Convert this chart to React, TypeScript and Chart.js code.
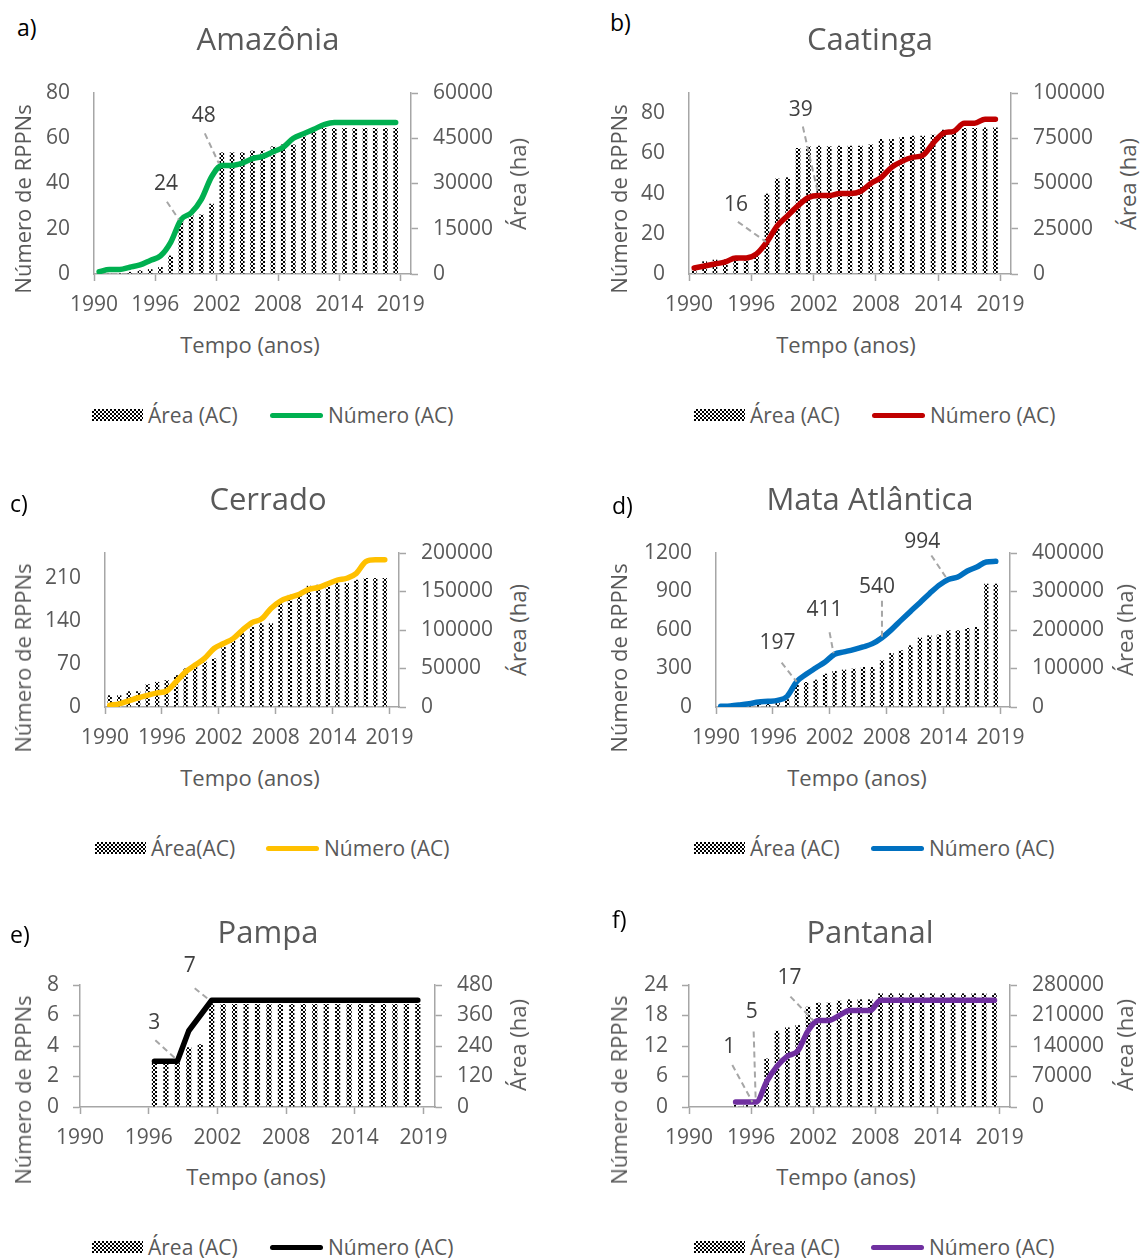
import React, { useEffect, useRef } from 'react';
import { Chart, registerables } from 'chart.js';

Chart.register(...registerables);

// ---------- DATA ----------
const years = ['1990','1991','1992','1993','1994','1995','1996','1997','1998','1999','2000','2001','2002','2003','2004','2005','2006','2007','2008','2009','2010','2011','2012','2013','2014','2015','2016','2017','2018','2019'];
const xTickLabels = ['1990', '1996', '2002', '2008', '2014', '2019'];

const amazoniaNumero = [1,2,2,3,4,6,8,14,24,27,33,43,48,48,49,51,52,54,56,60,62,64,66,67,67,67,67,67,67,67];
const amazoniaArea = [100,200,300,700,1200,1600,2300,6100,18000,19700,19700,23300,40300,40300,40300,40900,40900,42300,42900,42900,45600,47300,48400,48400,48400,48400,48400,48400,48400,48400];
const amazoniaLeftTicks = [0, 20, 40, 60, 80];
const amazoniaRightTicks = [0, 15000, 30000, 45000, 60000];

const caatingaNumero = [3,4,5,6,8,8,10,16,24,29,34,38,39,39,40,40,41,45,48,53,56,58,59,65,70,71,75,75,77,77];
const caatingaArea = [3000,7000,7900,8000,8500,9000,10000,44400,52700,53400,69600,70500,70900,70500,70900,70900,70900,71500,74600,74600,75700,76400,76400,77000,79700,79700,80700,80700,81000,81000];
const caatingaLeftTicks = [0, 20, 40, 60, 80];
const caatingaRightTicks = [0, 25000, 50000, 75000, 100000];

const cerradoNumero = [3,5,10,15,19,23,26,41,57,68,79,95,103,111,125,137,143,160,172,178,183,191,194,200,206,209,217,236,239,239];
const cerradoArea = [15200,15200,20400,20400,29600,32600,34800,41300,50000,54300,58700,63000,78300,87000,95700,104300,108700,108700,137000,145700,147800,157400,158700,158700,160900,160900,165200,167400,167400,167400];
const cerradoLeftTicks = [0, 70, 140, 210];
const cerradoRightTicks = [0, 50000, 100000, 150000, 200000];

const mataNumero = [5,8,16,26,39,44,52,83,197,255,304,351,411,429,447,468,494,540,603,675,745,813,883,948,994,1013,1060,1091,1130,1135];
const mataArea = [1000,2000,3000,5000,8000,10000,12000,20000,69000,65000,71000,86600,93500,97000,99600,103900,103900,121200,140300,147200,160200,180100,186100,187900,199100,199100,205200,207800,320300,320300];
const mataLeftTicks = [0, 300, 600, 900, 1200];
const mataRightTicks = [0, 100000, 200000, 300000, 400000];

const pampaNumero = [null,null,null,null,null,null,3,3,3,5,6,7,7,7,7,7,7,7,7,7,7,7,7,7,7,7,7,7,7,7];
const pampaArea = [null,null,null,null,null,null,180,180,180,235,247,405,405,405,405,405,405,405,405,405,405,405,405,405,405,405,405,405,405,405];
const pampaLeftTicks = [0, 2, 4, 6, 8];
const pampaRightTicks = [0, 120, 240, 360, 480];

const pantanalNumero = [null,null,null,null,1,1,1,5,8,10,11,15,17,17,18,19,19,19,21,21,21,21,21,21,21,21,21,21,21,21];
const pantanalArea = [null,null,null,null,5000,5000,5000,111200,174900,182600,187900,230100,239300,239300,243900,247000,247000,247000,260800,260800,260800,260800,260800,260800,260800,260800,260800,260800,260800,260800];
const pantanalLeftTicks = [0, 6, 12, 18, 24];
const pantanalRightTicks = [0, 70000, 140000, 210000, 280000];

// ---------- STYLE ----------
const FONT = "'Open Sans', 'DejaVu Sans', sans-serif";
const GRAY_TEXT = '#595959';
const AXIS_GRAY = '#A6A6A6';
const X_TICK_POS = [0, 6, 12, 18, 24, 30];
const PAD_L = 75, PAD_R = 100, PAD_T = 40, PAD_B = 50;

type Callout = { index: number; dx: number; dy: number; sx: number; sy: number; ex: number; ey: number };

type Spec = {
  letter: string; title: string; color: string; numero: (number | null)[]; area: (number | null)[];
  leftTicks: number[]; leftMax: number; rightTicks: number[]; rightMax: number;
  rect: { L: number; R: number; T: number; B: number };
  leftTickMarks: boolean; tension: number; callouts: Callout[];
  letterPos: [number, number]; titlePos: [number, number]; yTitlePos: [number, number];
  y2TitlePos: [number, number]; xTitlePos: [number, number];
  legend: { box: number; line: number; y: number; areaText: string };
};

const specs: Spec[] = [
  {
    letter: 'a)', title: 'Amazônia', color: '#00B050', numero: amazoniaNumero, area: amazoniaArea,
    leftTicks: amazoniaLeftTicks, leftMax: 80, rightTicks: amazoniaRightTicks, rightMax: 60000,
    rect: { L: 94, R: 411, T: 93, B: 274 }, leftTickMarks: false, tension: 0.35,
    callouts: [
      { index: 8, dx: -15, dy: -36, sx: 1, sy: 18, ex: -2, ey: 0 },
      { index: 12, dx: -18, dy: -49, sx: 1, sy: 17, ex: -3, ey: -2 },
    ],
    letterPos: [17, 27], titlePos: [268, 38], yTitlePos: [22, 199], y2TitlePos: [517, 184], xTitlePos: [250, 344],
    legend: { box: 92, line: 270, y: 415, areaText: 'Área (AC)' },
  },
  {
    letter: 'b)', title: 'Caatinga', color: '#C00000', numero: caatingaNumero, area: caatingaArea,
    leftTicks: caatingaLeftTicks, leftMax: 90, rightTicks: caatingaRightTicks, rightMax: 100000,
    rect: { L: 689, R: 1011, T: 93, B: 274 }, leftTickMarks: false, tension: 0.35,
    callouts: [
      { index: 7, dx: -31, dy: -37, sx: 2, sy: 17, ex: -1, ey: 0 },
      { index: 12, dx: -18, dy: -86, sx: 2, sy: 17, ex: -1, ey: -3 },
    ],
    letterPos: [610, 22], titlePos: [870, 38], yTitlePos: [618, 199], y2TitlePos: [1127, 184], xTitlePos: [846, 344],
    legend: { box: 694, line: 872, y: 415, areaText: 'Área (AC)' },
  },
  {
    letter: 'c)', title: 'Cerrado', color: '#FFC000', numero: cerradoNumero, area: cerradoArea,
    leftTicks: cerradoLeftTicks, leftMax: 250, rightTicks: cerradoRightTicks, rightMax: 200000,
    rect: { L: 105, R: 399, T: 553, B: 707 }, leftTickMarks: false, tension: 0.35,
    callouts: [],
    letterPos: [10, 503], titlePos: [268, 498], yTitlePos: [22, 658], y2TitlePos: [517, 630], xTitlePos: [250, 777],
    legend: { box: 95, line: 266, y: 848, areaText: 'Área(AC)' },
  },
  {
    letter: 'd)', title: 'Mata Atlântica', color: '#0070C0', numero: mataNumero, area: mataArea,
    leftTicks: mataLeftTicks, leftMax: 1200, rightTicks: mataRightTicks, rightMax: 400000,
    rect: { L: 716, R: 1010, T: 553, B: 707 }, leftTickMarks: false, tension: 0.35,
    callouts: [
      { index: 8, dx: -19, dy: -39, sx: 4, sy: 20, ex: 0, ey: 0 },
      { index: 12, dx: -10, dy: -44, sx: 5, sy: 22, ex: -1, ey: -1 },
      { index: 17, dx: -5, dy: -51, sx: 5, sy: 14, ex: 0, ey: 0 },
      { index: 24, dx: -26, dy: -37, sx: 9, sy: 13, ex: -1, ey: 0 },
    ],
    letterPos: [612, 505], titlePos: [870, 498], yTitlePos: [618, 658], y2TitlePos: [1124, 630], xTitlePos: [857, 777],
    legend: { box: 694, line: 871, y: 848, areaText: 'Área (AC)' },
  },
  {
    letter: 'e)', title: 'Pampa', color: '#000000', numero: pampaNumero, area: pampaArea,
    leftTicks: pampaLeftTicks, leftMax: 8, rightTicks: pampaRightTicks, rightMax: 480,
    rect: { L: 80, R: 435, T: 985, B: 1107 }, leftTickMarks: true, tension: 0,
    callouts: [
      { index: 8, dx: -23, dy: -38, sx: 1, sy: 17, ex: 0, ey: -1 },
      { index: 11, dx: -22, dy: -34, sx: 5, sy: 22, ex: -2, ey: 0 },
    ],
    letterPos: [10, 934], titlePos: [268, 931], yTitlePos: [22, 1090], y2TitlePos: [517, 1045], xTitlePos: [256, 1176],
    legend: { box: 92, line: 270, y: 1247, areaText: 'Área (AC)' },
  },
  {
    letter: 'f)', title: 'Pantanal', color: '#7030A0', numero: pantanalNumero, area: pantanalArea,
    leftTicks: pantanalLeftTicks, leftMax: 24, rightTicks: pantanalRightTicks, rightMax: 280000,
    rect: { L: 689, R: 1010, T: 985, B: 1107 }, leftTickMarks: true, tension: 0.3,
    callouts: [
      { index: 6, dx: -27, dy: -55, sx: 3, sy: 18, ex: -4, ey: 0 },
      { index: 7, dx: -15, dy: -70, sx: 2, sy: 20, ex: -11, ey: 18 },
      { index: 12, dx: -29, dy: -43, sx: 1, sy: 19, ex: -5, ey: 0 },
    ],
    letterPos: [612, 919], titlePos: [870, 931], yTitlePos: [618, 1090], y2TitlePos: [1124, 1045], xTitlePos: [846, 1176],
    legend: { box: 694, line: 871, y: 1247, areaText: 'Área (AC)' },
  },
];

function makePattern(ctx: CanvasRenderingContext2D) {
  const c = document.createElement('canvas');
  c.width = 4; c.height = 4;
  const g = c.getContext('2d')!;
  g.fillStyle = '#ffffff'; g.fillRect(0, 0, 4, 4);
  g.fillStyle = '#000000'; g.fillRect(0, 0, 2, 2); g.fillRect(2, 2, 2, 2);
  return ctx.createPattern(c, 'repeat')!;
}

const calloutPlugin = {
  id: 'callouts',
  afterDatasetsDraw(chart: any, _args: any, opts: any) {
    const items: Callout[] = opts.items || [];
    const meta = chart.getDatasetMeta(0);
    const data = chart.data.datasets[0].data;
    const ctx = chart.ctx as CanvasRenderingContext2D;
    ctx.save();
    items.forEach((c) => {
      const el = meta.data[c.index];
      if (!el) return;
      const px = el.x, py = el.y;
      const tx = px + c.dx, ty = py + c.dy;
      ctx.setLineDash([6, 4]);
      ctx.strokeStyle = AXIS_GRAY;
      ctx.lineWidth = 2;
      ctx.beginPath();
      ctx.moveTo(tx + c.sx, ty + c.sy);
      ctx.lineTo(px + c.ex, py + c.ey);
      ctx.stroke();
      ctx.setLineDash([]);
      ctx.fillStyle = '#404040';
      ctx.font = `21px ${FONT}`;
      ctx.textAlign = 'center';
      ctx.textBaseline = 'middle';
      ctx.fillText(String(data[c.index].y), tx, ty);
    });
    ctx.restore();
  },
};

function PanelChart({ spec }: { spec: Spec }) {
  const ref = useRef<HTMLCanvasElement>(null);
  const { L, R, T, B } = spec.rect;
  const left = L - PAD_L, top = T - PAD_T;
  const w = R + PAD_R - left, h = B + PAD_B - top;

  useEffect(() => {
    const canvas = ref.current!;
    const ctx = canvas.getContext('2d')!;
    const pattern = makePattern(ctx);
    const tickFont = { family: FONT, size: 21 };
    const lineData = spec.numero.map((v, i) => ({ x: i + 0.5, y: v }));
    const barData = spec.area.map((v, i) => ({ x: i + 0.5, y: v }));
    const chart = new Chart(ctx, {
      type: 'bar',
      data: {
        datasets: [
          {
            type: 'line', label: 'Número (AC)', data: lineData as any, yAxisID: 'y',
            borderColor: spec.color, backgroundColor: spec.color, borderWidth: 5.5,
            pointRadius: 0, tension: spec.tension, cubicInterpolationMode: spec.tension > 0 ? 'monotone' : 'default',
            borderCapStyle: 'round', borderJoinStyle: 'round', fill: false,
          } as any,
          {
            type: 'bar', label: 'Área (AC)', data: barData as any, yAxisID: 'y2',
            backgroundColor: pattern as any, borderWidth: 0, barPercentage: 0.45, categoryPercentage: 1,
          } as any,
        ],
      },
      options: {
        responsive: false,
        animation: false,
        devicePixelRatio: 1,
        layout: { padding: { top: PAD_T, left: 0, right: 0, bottom: 0 } },
        plugins: { legend: { display: false }, tooltip: { enabled: false }, title: { display: false }, callouts: { items: spec.callouts } } as any,
        scales: {
          x: {
            type: 'linear', min: 0, max: years.length + 1, offset: false,
            afterBuildTicks: (s: any) => { s.ticks = X_TICK_POS.map((v) => ({ value: v })); },
            afterFit: (s: any) => { s.height = PAD_B; },
            ticks: { autoSkip: false, maxRotation: 0, padding: 11, color: GRAY_TEXT, font: tickFont, callback: (_v: any, i: number) => xTickLabels[i] },
            grid: { display: true, drawOnChartArea: false, drawTicks: true, tickLength: 7, tickColor: AXIS_GRAY, tickWidth: 1.5, offset: false },
            border: { display: true, color: AXIS_GRAY, width: 1.5 },
          },
          y: {
            type: 'linear', position: 'left', min: 0, max: spec.leftMax,
            afterBuildTicks: (s: any) => { s.ticks = spec.leftTicks.map((v) => ({ value: v })); },
            afterFit: (s: any) => { s.width = PAD_L; },
            ticks: { padding: spec.leftTickMarks ? 14 : 17, color: GRAY_TEXT, font: tickFont, callback: (v: any) => String(v) },
            grid: { display: true, drawOnChartArea: false, drawTicks: true, tickLength: 7, tickColor: spec.leftTickMarks ? AXIS_GRAY : 'rgba(0,0,0,0)', tickWidth: 1.5 },
            border: { display: true, color: AXIS_GRAY, width: 1.5 },
          },
          y2: {
            type: 'linear', position: 'right', min: 0, max: spec.rightMax,
            afterBuildTicks: (s: any) => { s.ticks = spec.rightTicks.map((v) => ({ value: v })); },
            afterFit: (s: any) => { s.width = PAD_R; },
            ticks: { padding: 15, color: GRAY_TEXT, font: tickFont, callback: (v: any) => String(v) },
            grid: { display: true, drawOnChartArea: false, drawTicks: true, tickLength: 7, tickColor: AXIS_GRAY, tickWidth: 1.5 },
            border: { display: true, color: AXIS_GRAY, width: 1.5 },
          },
        },
      } as any,
      plugins: [calloutPlugin as any],
    });
    return () => chart.destroy();
  }, []);

  return <canvas ref={ref} width={w} height={h} style={{ position: 'absolute', left, top, width: w, height: h }} />;
}

function Txt({ x, y, size, color = GRAY_TEXT, align = 'center', children }: any) {
  const tx = align === 'left' ? '0' : '-50%';
  return (
    <div style={{
      position: 'absolute', left: x, top: y, fontFamily: FONT, fontSize: size, color, lineHeight: 1,
      whiteSpace: 'nowrap', transform: `translate(${tx}, -50%)`,
    }}>{children}</div>
  );
}

function RotTxt({ x, y, size, children }: any) {
  return (
    <div style={{
      position: 'absolute', left: x, top: y, fontFamily: FONT, fontSize: size, color: GRAY_TEXT, lineHeight: 1,
      whiteSpace: 'nowrap', transform: 'translate(-50%, -50%) rotate(-90deg)',
    }}>{children}</div>
  );
}

function Panel({ spec }: { spec: Spec }) {
  const lg = spec.legend;
  return (
    <>
      <PanelChart spec={spec} />
      <Txt x={spec.letterPos[0]} y={spec.letterPos[1]} size={23} color="#000" align="left">{spec.letter}</Txt>
      <Txt x={spec.titlePos[0]} y={spec.titlePos[1]} size={31}>{spec.title}</Txt>
      <RotTxt x={spec.yTitlePos[0]} y={spec.yTitlePos[1]} size={22}>Número de RPPNs</RotTxt>
      <RotTxt x={spec.y2TitlePos[0]} y={spec.y2TitlePos[1]} size={22}>Área (ha)</RotTxt>
      <Txt x={spec.xTitlePos[0]} y={spec.xTitlePos[1]} size={22}>Tempo (anos)</Txt>
      <div style={{
        position: 'absolute', left: lg.box, top: lg.y - 6, width: 51, height: 12,
        background: 'repeating-conic-gradient(#000 0% 25%, #fff 0% 50%) 0 0 / 4px 4px',
      }} />
      <Txt x={lg.box + 56} y={lg.y} size={21} align="left">{lg.areaText}</Txt>
      <div style={{ position: 'absolute', left: lg.line, top: lg.y - 2.5, width: 53, height: 5, background: spec.color, borderRadius: 3 }} />
      <Txt x={lg.line + 58} y={lg.y} size={21} align="left">Número (AC)</Txt>
    </>
  );
}

export default function App() {
  return (
    <div style={{ position: 'absolute', left: 0, top: 0, width: 1146, height: 1259, background: '#fff', overflow: 'hidden' }}>
      {specs.map((s) => <Panel key={s.letter} spec={s} />)}
    </div>
  );
}
